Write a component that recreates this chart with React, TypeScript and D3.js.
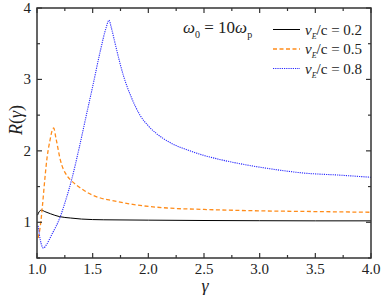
import React from 'react'
import * as d3 from 'd3'

// values
const gammaBlack = [1.005, 1.02, 1.04, 1.07, 1.12, 1.2, 1.3, 1.4, 1.6, 2.0, 2.5, 3.0, 3.5, 4.0]
const rBlack = [1.1, 1.15, 1.17, 1.15, 1.12, 1.08, 1.06, 1.045, 1.035, 1.03, 1.025, 1.022, 1.02, 1.02]

const gammaOrange = [1.01, 1.03, 1.05, 1.07, 1.09, 1.117, 1.135, 1.15, 1.17, 1.21, 1.27, 1.31, 1.4, 1.46, 1.57, 1.66, 1.86, 2.17, 2.5, 3.0, 3.5, 4.0]
const rOrange = [0.78, 0.95, 1.25, 1.6, 1.9, 2.15, 2.28, 2.32, 2.18, 1.87, 1.65, 1.58, 1.47, 1.41, 1.34, 1.31, 1.25, 1.2, 1.18, 1.16, 1.15, 1.14]

const gammaBlue = [1.01, 1.03, 1.057, 1.09, 1.13, 1.207, 1.26, 1.31, 1.38, 1.446, 1.5, 1.566, 1.62, 1.647, 1.665, 1.69, 1.716, 1.775, 1.85, 1.925, 2.0, 2.075, 2.19, 2.374, 2.49, 2.64, 2.79, 3.09, 3.39, 3.72, 4.0]
const rBlue = [0.95, 0.75, 0.64, 0.7, 0.82, 1.07, 1.32, 1.59, 2.05, 2.52, 2.9, 3.38, 3.72, 3.83, 3.74, 3.58, 3.41, 3.06, 2.74, 2.5, 2.35, 2.24, 2.12, 2.0, 1.94, 1.88, 1.83, 1.75, 1.69, 1.66, 1.63]

const xTicks = [1.0, 1.5, 2.0, 2.5, 3.0, 3.5, 4.0]
const yTicks = [1, 2, 3, 4]
const legendValues = ['0.2', '0.5', '0.8']

const W = 382, H = 295
const margin = { left: 37, right: 11, top: 8, bottom: 37 }
const ff = 'Liberation Serif'

export default function App() {
  const x = d3.scaleLinear().domain([1, 4]).range([margin.left, W - margin.right])
  const y = d3.scaleLinear().domain([0.5, 4]).range([H - margin.bottom, margin.top])
  const line = d3.line<number>().curve(d3.curveMonotoneX)

  const series = [
    { g: gammaBlack, r: rBlack, color: '#000', dash: 'none', width: 1 },
    { g: gammaOrange, r: rOrange, color: '#ff8c1a', dash: '4,2.5', width: 1.3 },
    { g: gammaBlue, r: rBlue, color: '#2a2aff', dash: '1.2,1', width: 1.1 },
  ]

  const x0 = x.range()[0], x1 = x.range()[1]
  const y0 = y.range()[0], y1 = y.range()[1]
  const xMinor = d3.range(1.25, 4, 0.5)
  const yMinor = d3.range(1.5, 4, 1).concat([0.5])
  const axisColor = '#333'

  return (
    <svg width={W} height={H} style={{ position: 'absolute', left: 0, top: 0 }}>
      <defs>
        <clipPath id="plot">
          <rect x={x0} y={y1} width={x1 - x0} height={y0 - y1} />
        </clipPath>
      </defs>
      <g clipPath="url(#plot)" fill="none">
        {series.map((s, i) => (
          <path key={i}
            d={line(s.g.map((g, j) => [x(g), y(s.r[j])] as [number, number])) || ''}
            stroke={s.color} strokeWidth={s.width} strokeDasharray={s.dash} />
        ))}
      </g>
      <rect x={x0} y={y1} width={x1 - x0} height={y0 - y1} fill="none" stroke={axisColor} strokeWidth={1.5} />
      {xTicks.map(t => (
        <g key={'x' + t}>
          <line x1={x(t)} x2={x(t)} y1={y0} y2={y0 - 5} stroke={axisColor} strokeWidth={1.2} />
          <line x1={x(t)} x2={x(t)} y1={y1} y2={y1 + 5} stroke={axisColor} strokeWidth={1.2} />
        </g>
      ))}
      {xTicks.map(t => (
        <text key={'xl' + t} x={x(t)} y={274} fontSize={15} fontFamily={ff} textAnchor="middle" fill="#222">{t.toFixed(1)}</text>
      ))}
      {xMinor.map(t => (
        <g key={'xm' + t}>
          <line x1={x(t)} x2={x(t)} y1={y0} y2={y0 - 3} stroke={axisColor} strokeWidth={1.2} />
          <line x1={x(t)} x2={x(t)} y1={y1} y2={y1 + 3} stroke={axisColor} strokeWidth={1.2} />
        </g>
      ))}
      {yTicks.map(t => (
        <g key={'y' + t}>
          <line x1={x0} x2={x0 + 5} y1={y(t)} y2={y(t)} stroke={axisColor} strokeWidth={1.2} />
          <line x1={x1} x2={x1 - 5} y1={y(t)} y2={y(t)} stroke={axisColor} strokeWidth={1.2} />
        </g>
      ))}
      {yTicks.map(t => (
        <text key={'yl' + t} x={31} y={y(t) + 5} fontSize={15} fontFamily={ff} textAnchor="end" fill="#222">{t}</text>
      ))}
      {yMinor.map(t => (
        <g key={'ym' + t}>
          <line x1={x0} x2={x0 + 3} y1={y(t)} y2={y(t)} stroke={axisColor} strokeWidth={1.2} />
          <line x1={x1} x2={x1 - 3} y1={y(t)} y2={y(t)} stroke={axisColor} strokeWidth={1.2} />
        </g>
      ))}
      <text x={205} y={292} fontSize={18} fontFamily={ff} fontStyle="italic" textAnchor="middle" fill="#222">γ</text>
      <text transform="translate(22,120) rotate(-90)" fontSize={18} fontFamily={ff} textAnchor="middle" fill="#222">
        <tspan fontStyle="italic">R</tspan>(<tspan fontStyle="italic">γ</tspan>)
      </text>
      <text x={183} y={33} fontSize={17} fontFamily={ff} fill="#222">
        <tspan fontStyle="italic">ω</tspan><tspan fontSize={10} dy={5}>0</tspan>
        <tspan dy={-5}> = 10</tspan><tspan fontStyle="italic">ω</tspan><tspan fontSize={10} dy={5}>p</tspan>
      </text>
      {series.map((s, i) => {
        const ly = 29.5 + i * 19.5
        return (
          <g key={'l' + i}>
            <line x1={273} x2={300} y1={ly} y2={ly} stroke={s.color} strokeWidth={s.width} strokeDasharray={s.dash} />
            <text x={305} y={ly + 5} fontSize={15} fontFamily={ff} fill="#222">
              <tspan fontStyle="italic">v</tspan><tspan fontSize={8} dy={4} fontStyle="italic">E</tspan>
              <tspan dy={-4}>/c = {legendValues[i]}</tspan>
            </text>
          </g>
        )
      })}
    </svg>
  )
}
